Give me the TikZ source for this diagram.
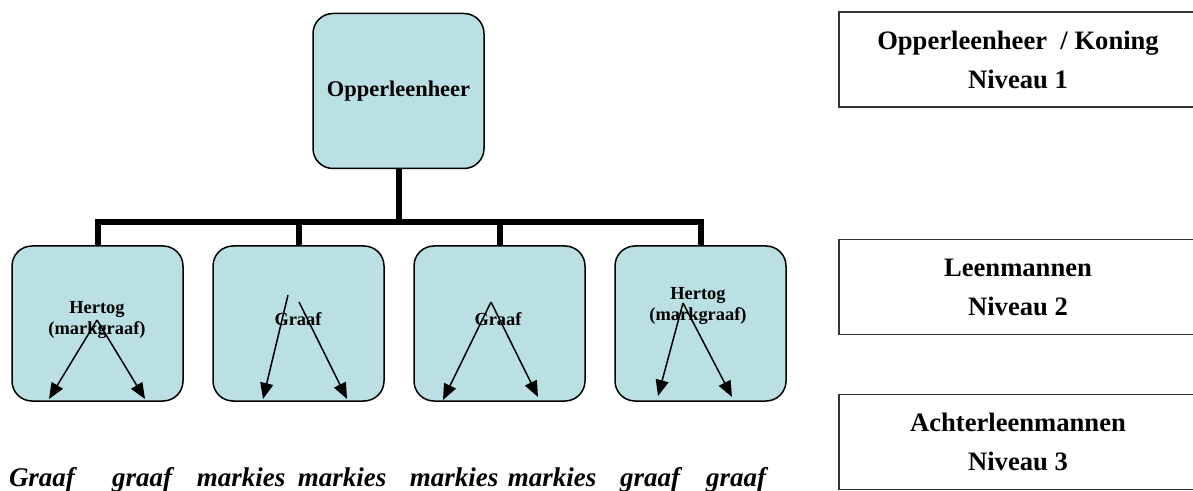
\documentclass[tikz,border=0pt]{standalone}
\usepackage{fontspec}
\setmainfont{Liberation Serif}
\usetikzlibrary{chains,positioning,arrows.meta}
\definecolor{leenblue}{RGB}{187,224,227}
\tikzstyle{leen}=[draw,line width=0.75pt,fill=leenblue,rounded corners=10pt,minimum width=85.5pt,minimum height=77.5pt]
\tikzstyle{leentext}=[font=\bfseries\fontsize{9.2}{10.5}\selectfont,align=center,inner sep=0pt]
\tikzstyle{trunk}=[line width=3pt]
\tikzstyle{vassal}=[-{Triangle[length=8pt,width=6.5pt]},line width=0.75pt]
\tikzstyle{level}=[draw=black!80,line width=0.75pt,minimum width=179pt,minimum height=47.5pt,align=center,font=\bfseries\fontsize{13.3}{19.5}\selectfont]
\tikzstyle{rank}=[font=\bfseries\itshape\fontsize{13.5}{15}\selectfont,inner sep=0pt,anchor=base]

\begin{document}
\begin{tikzpicture}[x=0.5pt,y=-0.5pt]
\useasboundingbox (0,0) rectangle (1193,491);
\node [leen,font=\bfseries\fontsize{11.2}{13}\selectfont] (top) at (398.5,91) {Opperleenheer};
\begin{scope}[start chain=1 going right, node distance=14.25pt]
    \node [on chain=1,leen] (b1) at (97.5,323.5) {};
    \node [on chain=1,leen] (b2) {};
    \node [on chain=1,leen] (b3) {};
    \node [on chain=1,leen] (b4) {};
\end{scope}
\coordinate (hub) at (398.5,222);
\draw [trunk] (top.south) -- (hub);
\draw [trunk] (b1.north) |- (hub) -| (b4.north);
\draw [trunk] (b2.north) -- (b2.north |- hub);
\draw [trunk] (b3.north) -- (b3.north |- hub);
% labels in the boxes
\node [leentext] (h1) at (97,320) {Hertog\\(markgraaf)};
\node [leentext] (g2) at (298,319) {Graaf};
\node [leentext] (g3) at (498,319) {Graaf};
\node [leentext] (h4) at (698,306.5) {Hertog\\(markgraaf)};
% arrows
\coordinate (a1) at (97,320);
\coordinate (a1l) at (49,399);
\coordinate (a1r) at (145,399);
\coordinate (a2) at (288,295);
\coordinate (a2b) at (299,302);
\coordinate (a2l) at (263,399);
\coordinate (a2r) at (347,399);
\coordinate (a3) at (491,302);
\coordinate (a3l) at (443,400);
\coordinate (a3r) at (538,397);
\coordinate (a4) at (683,303);
\coordinate (a4l) at (658,396);
\coordinate (a4r) at (732,397);
\draw [vassal] (a1) -- (a1l);
\draw [vassal] (a1) -- (a1r);
\draw [vassal] (a2) -- (a2l);
\draw [vassal] (a2b) -- (a2r);
\draw [vassal] (a3) -- (a3l);
\draw [vassal] (a3) -- (a3r);
\draw [vassal] (a4) -- (a4l);
\draw [vassal] (a4) -- (a4r);
% levels
\node [level] (n1) at (1018,59.5) {Opperleenheer~ / Koning\\Niveau 1};
\node [level] (n2) at (1018,287) {Leenmannen\\Niveau 2};
\node [level] (n3) at (1018,442) {Achterleenmannen\\Niveau 3};
% bottom row
\node [rank] (w1) at (42,486) {Graaf};
\node [rank] (w2) at (142,486) {graaf};
\node [rank] (w3) at (241,486) {markies};
\node [rank] (w4) at (342,486) {markies};
\node [rank] (w5) at (454,486) {markies};
\node [rank] (w6) at (552,486) {markies};
\node [rank] (w7) at (650,486) {graaf};
\node [rank] (w8) at (736,486) {graaf};
\end{tikzpicture}
\end{document}
